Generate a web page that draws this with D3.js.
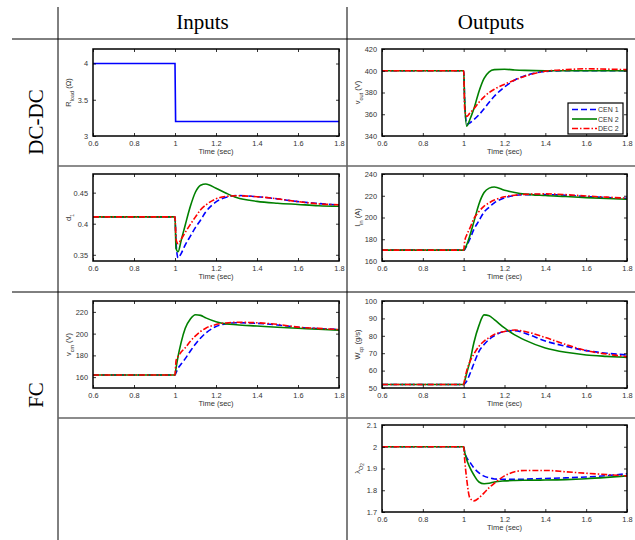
<!DOCTYPE html>
<html>
<head>
<meta charset="utf-8">
<title>Inputs / Outputs</title>
<script src="https://cdn.jsdelivr.net/npm/d3@7"></script>
<style>
  body { margin: 0; background: #fff; }
  svg { display: block; }
  .tick text { font-family: "Liberation Sans", Arial, sans-serif; font-size: 7.4px; fill: #333; }
  .axlab { font-family: "Liberation Sans", Arial, sans-serif; font-size: 7.5px; fill: #333; }
  .head { font-family: "Liberation Serif", "Times New Roman", serif; font-size: 21px; fill: #000; }
</style>
</head>
<body>
<div id="chart"></div>
<script>
// ---- data ----
const seriesNames = ["CEN 1", "CEN 2", "DEC 2"];
const xTicks = [0.6, 0.8, 1, 1.2, 1.4, 1.6, 1.8];

// common time samples for the response curves
const T = [0.6, 1.0, 1.005, 1.015, 1.03, 1.05, 1.075, 1.1, 1.125, 1.15, 1.2, 1.25, 1.3, 1.4, 1.5, 1.6, 1.7, 1.8];

// load step (input)
const rloadT = [0.6, 1.0, 1.003, 1.8];
const rloadV = [4, 4, 3.2, 3.2];
const rloadTicks = [3, 3.5, 4];

// v_out
const voutCen1 = [400, 400, 372, 351, 352, 355, 359.5, 365, 371, 376.5, 385, 391.5, 395.5, 399.3, 400, 400, 400, 400];
const voutCen2 = [400, 400, 372, 349, 355, 365, 381, 393, 399, 401, 401.4, 400.7, 400.3, 400, 400, 400, 400, 400];
const voutDec2 = [400, 400, 365, 358, 361, 365, 371, 376, 380, 383, 387.5, 391.5, 395, 399.5, 401, 401.8, 401.5, 401];
const voutTicks = [340, 360, 380, 400, 420];

// d_1
const d1Cen1 = [0.411, 0.411, 0.37, 0.345, 0.352, 0.366, 0.38, 0.394, 0.406, 0.419, 0.435, 0.4425, 0.4455, 0.4435, 0.44, 0.4355, 0.4325, 0.43];
const d1Cen2 = [0.411, 0.411, 0.36, 0.355, 0.373, 0.398, 0.428, 0.451, 0.462, 0.464, 0.457, 0.449, 0.442, 0.436, 0.433, 0.431, 0.429, 0.428];
const d1Dec2 = [0.411, 0.411, 0.375, 0.368, 0.375, 0.386, 0.399, 0.411, 0.4225, 0.43, 0.44, 0.444, 0.445, 0.4435, 0.44, 0.4355, 0.432, 0.4305];
const d1Ticks = [0.35, 0.4, 0.45];

// I_in
const iinCen1 = [170, 170, 170.5, 174, 180, 189, 197, 205, 209.5, 213.5, 218, 220.3, 221, 221, 220.5, 219.3, 218.3, 217.6];
const iinCen2 = [170, 170, 171, 175, 183, 196, 212.5, 223, 227, 228, 225, 223, 221.5, 220.2, 219.3, 218.3, 217.5, 216.8];
const iinDec2 = [170, 170, 178, 184, 190, 199, 205.5, 210.5, 213.5, 216, 219, 220.5, 221.3, 221.7, 221, 219.8, 218.7, 217.8];
const iinTicks = [160, 180, 200, 220, 240];

// v_cm
const vcmCen1 = [162, 162, 164, 168, 172, 177, 184, 190.5, 196, 200.5, 206.5, 209.2, 210, 209.5, 208, 205.8, 204.6, 203.8];
const vcmCen2 = [162, 162, 168, 179, 192, 205, 213.5, 217.4, 216.8, 214.5, 211, 209, 208.2, 207, 205.8, 204.9, 204, 203.2];
const vcmDec2 = [162, 162, 175, 179, 183, 187, 193, 198, 202, 205, 208.3, 209.8, 210.4, 210, 208.5, 206, 204.8, 203.8];
const vcmTicks = [160, 180, 200, 220];

// W_cp
const wcpCen1 = [52, 52, 52.5, 54, 58, 64, 71, 75, 78, 80, 82.5, 83, 81.5, 77, 74, 71.5, 70, 69];
const wcpCen2 = [52, 52, 54, 58.5, 65, 76, 86, 92, 91.5, 89.3, 84.5, 80.5, 77.5, 73, 70.5, 69, 68.2, 67.6];
const wcpDec2 = [52, 52, 55, 60, 65, 69.5, 74, 77, 79, 80.8, 82.5, 83.3, 82.5, 79, 75, 71.5, 69.5, 68];
const wcpTicks = [50, 60, 70, 80, 90, 100];

// lambda_O2
const lamCen1 = [2, 2, 1.975, 1.95, 1.93, 1.903, 1.88, 1.865, 1.857, 1.852, 1.85, 1.85, 1.851, 1.854, 1.857, 1.861, 1.867, 1.876];
const lamCen2 = [2, 2, 1.975, 1.94, 1.905, 1.87, 1.838, 1.83, 1.832, 1.838, 1.843, 1.845, 1.846, 1.847, 1.849, 1.853, 1.859, 1.866];
const lamDec2 = [2, 2, 1.94, 1.85, 1.765, 1.751, 1.765, 1.788, 1.812, 1.832, 1.866, 1.885, 1.891, 1.891, 1.885, 1.878, 1.872, 1.866];
const lamTicks = [1.7, 1.8, 1.9, 2, 2.1];

// ---- drawing ----
const width = 635, height = 540;
const colors = ["#0000ff", "#008000", "#ff0000"];
const dashes = ["6,3", null, "6,2,1.5,2"];

const svg = d3.select("#chart").append("svg")
    .attr("width", width)
    .attr("height", height);

// table frame
const frame = [
  [58, 7, 58, 540, "#000", 1],
  [347, 7, 347, 540, "#555", 1.5],
  [12, 39, 635, 39, "#000", 1],
  [58, 166, 635, 166, "#666", 1.5],
  [12, 292, 635, 292, "#000", 1],
  [58, 418, 635, 418, "#666", 1.5]
];
svg.selectAll("line.frame").data(frame).join("line")
    .attr("class", "frame")
    .attr("x1", d => d[0]).attr("y1", d => d[1])
    .attr("x2", d => d[2]).attr("y2", d => d[3])
    .attr("stroke", d => d[4]).attr("stroke-width", d => d[5]);

svg.append("text").attr("class", "head").attr("x", 202.5).attr("y", 29)
    .attr("text-anchor", "middle").text("Inputs");
svg.append("text").attr("class", "head").attr("x", 491).attr("y", 29)
    .attr("text-anchor", "middle").text("Outputs");
svg.append("text").attr("class", "head").attr("text-anchor", "middle")
    .attr("transform", "translate(43,122) rotate(-90)").text("DC-DC");
svg.append("text").attr("class", "head").attr("text-anchor", "middle")
    .attr("transform", "translate(43,395) rotate(-90)").text("FC");

const colX = [93, 382], colW = [246, 245];
const rowY = [49, 174, 301, 425], rowH = 87;

function zip(ts, vs) { return ts.map((t, i) => [t, vs[i]]); }

const panels = [
  { col: 0, row: 0, domain: [3, 4.2], ticks: rloadTicks, label: ["R", "load", null, " (Ω)"],
    series: [{ pts: zip(rloadT, rloadV), k: 0, solid: true, linear: true }] },
  { col: 1, row: 0, domain: [340, 420], ticks: voutTicks, label: ["v", "out", null, " (V)"], legend: true,
    series: [voutCen1, voutCen2, voutDec2].map((v, k) => ({ pts: zip(T, v), k })) },
  { col: 0, row: 1, domain: [0.34, 0.48], ticks: d1Ticks, label: ["d", "1", null, ""],
    series: [d1Cen1, d1Cen2, d1Dec2].map((v, k) => ({ pts: zip(T, v), k })) },
  { col: 1, row: 1, domain: [160, 240], ticks: iinTicks, label: ["I", "in", null, " (A)"],
    series: [iinCen1, iinCen2, iinDec2].map((v, k) => ({ pts: zip(T, v), k })) },
  { col: 0, row: 2, domain: [150, 230], ticks: vcmTicks, label: ["v", "cm", null, " (V)"],
    series: [vcmCen1, vcmCen2, vcmDec2].map((v, k) => ({ pts: zip(T, v), k })) },
  { col: 1, row: 2, domain: [50, 100], ticks: wcpTicks, label: ["W", "cp", null, " (g/s)"],
    series: [wcpCen1, wcpCen2, wcpDec2].map((v, k) => ({ pts: zip(T, v), k })) },
  { col: 1, row: 3, domain: [1.7, 2.1], ticks: lamTicks, label: ["λ", "O", "2", ""],
    series: [lamCen1, lamCen2, lamDec2].map((v, k) => ({ pts: zip(T, v), k })) }
];

panels.forEach((p, pi) => {
  const x0 = colX[p.col], y0 = rowY[p.row], w = colW[p.col], h = rowH;
  const g = svg.append("g").attr("transform", `translate(${x0},${y0})`);
  const x = d3.scaleLinear().domain([0.6, 1.8]).range([0, w]);
  const y = d3.scaleLinear().domain(p.domain).range([h, 0]);

  const clipId = "clip" + pi;
  g.append("clipPath").attr("id", clipId).append("rect")
      .attr("x", 0).attr("y", 0).attr("width", w).attr("height", h);

  const line = d3.line().x(d => x(d[0])).y(d => y(d[1]));
  p.series.forEach(s => {
    g.append("path")
        .datum(s.pts)
        .attr("clip-path", `url(#${clipId})`)
        .attr("fill", "none")
        .attr("stroke", colors[s.k])
        .attr("stroke-width", 1.6)
        .attr("stroke-dasharray", s.solid ? null : dashes[s.k])
        .attr("d", line.curve(s.linear ? d3.curveLinear : d3.curveMonotoneX));
  });

  // axes, MATLAB style: inward ticks on all four sides
  const fmt = d => String(+d.toFixed(3));
  g.append("g").attr("transform", `translate(0,${h})`)
      .call(d3.axisBottom(x).tickValues(xTicks).tickSize(-3).tickPadding(5).tickFormat(fmt))
      .call(a => a.select(".domain").remove());
  g.append("g")
      .call(d3.axisTop(x).tickValues(xTicks).tickSize(-3).tickFormat(""))
      .call(a => a.select(".domain").remove());
  g.append("g")
      .call(d3.axisLeft(y).tickValues(p.ticks).tickSize(-3).tickPadding(5).tickFormat(fmt))
      .call(a => a.select(".domain").remove());
  g.append("g").attr("transform", `translate(${w},0)`)
      .call(d3.axisRight(y).tickValues(p.ticks).tickSize(-3).tickFormat(""))
      .call(a => a.select(".domain").remove());
  g.selectAll(".tick line").attr("stroke", "#000").attr("stroke-width", 0.8);

  g.append("rect").attr("width", w).attr("height", h)
      .attr("fill", "none").attr("stroke", "#000").attr("stroke-width", 1.5);

  g.append("text").attr("class", "axlab")
      .attr("x", w / 2).attr("y", h + 18)
      .attr("text-anchor", "middle").text("Time (sec)");

  // y label with subscripts
  const yl = g.append("text").attr("class", "axlab")
      .attr("text-anchor", "middle")
      .attr("transform", `translate(-22,${h / 2}) rotate(-90)`);
  const [main, sub, subsub, unit] = p.label;
  yl.append("tspan").text(main);
  yl.append("tspan").attr("dy", 2.5).attr("font-size", "5.5px").text(sub);
  let back = -2.5;
  if (subsub) {
    yl.append("tspan").attr("dy", 1.5).attr("font-size", "4.5px").text(subsub);
    back = -4;
  }
  yl.append("tspan").attr("dy", back).text(unit ? "\u00a0" + unit.trim() : "");

  if (p.legend) {
    const lx = w - 59, ly = h - 33, lw = 55, lh = 31;
    const lg = g.append("g").attr("transform", `translate(${lx},${ly})`);
    lg.append("rect").attr("width", lw).attr("height", lh)
        .attr("fill", "#fff").attr("stroke", "#000").attr("stroke-width", 1.2);
    seriesNames.forEach((name, k) => {
      const yy = 6.5 + k * 9.5;
      lg.append("line").attr("x1", 4).attr("x2", 29).attr("y1", yy).attr("y2", yy)
          .attr("stroke", colors[k]).attr("stroke-width", 1.6)
          .attr("stroke-dasharray", dashes[k]);
      lg.append("text").attr("class", "axlab").attr("x", 30).attr("y", yy + 2.6)
          .style("font-size", "7px").text(name);
    });
  }
});
</script>
</body>
</html>
